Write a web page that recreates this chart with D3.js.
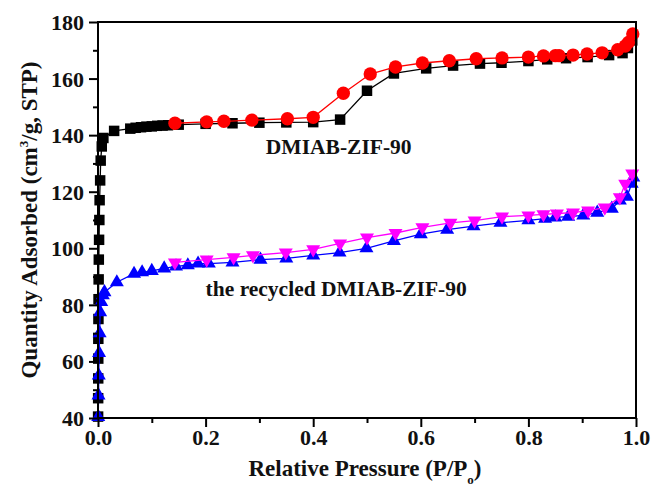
<!DOCTYPE html>
<html>
<head>
<meta charset="utf-8">
<script src="https://cdn.jsdelivr.net/npm/d3@7"></script>
<style>
body { margin: 0; background: #fff; }
text { font-family: "Liberation Serif", "Times New Roman", serif; font-weight: bold; fill: #111; }
</style>
</head>
<body>
<div id="chart"></div>
<script>
// DMIAB-ZIF-90, adsorption branch (black squares)
var blackP = [0.0002, 0.0003, 0.0004, 0.0005, 0.0006, 0.0008, 0.001, 0.0012, 0.0015, 0.002, 0.0025, 0.003, 0.004, 0.005, 0.007, 0.01, 0.03, 0.06, 0.07, 0.08, 0.09, 0.1, 0.11, 0.12, 0.13, 0.15, 0.2, 0.25, 0.3, 0.35, 0.4, 0.45, 0.5, 0.55, 0.61, 0.66, 0.71, 0.75, 0.8, 0.835, 0.87, 0.91, 0.95, 0.975, 0.985, 0.993];
var blackQ = [40.5, 47, 54, 61, 68, 75, 82, 89, 96, 103, 110, 117, 124, 131, 136, 139, 141.5, 142.3, 142.6, 142.8, 143, 143.1, 143.3, 143.4, 143.5, 143.7, 144, 144.2, 144.4, 144.5, 144.6, 145.5, 155.7, 161.8, 163.6, 164.6, 165.3, 165.6, 166.2, 166.8, 167.2, 167.6, 168.3, 169, 170.8, 173.5];
// DMIAB-ZIF-90, desorption branch (red circles)
var redP = [0.143, 0.202, 0.234, 0.286, 0.352, 0.40, 0.456, 0.506, 0.553, 0.603, 0.653, 0.703, 0.751, 0.80, 0.828, 0.85, 0.857, 0.883, 0.909, 0.937, 0.966, 0.98, 0.986, 0.994];
var redQ = [144.2, 144.7, 144.9, 145.3, 145.8, 146.3, 154.8, 161.6, 164.1, 165.5, 166.3, 167, 167.3, 167.6, 168, 168.1, 168.1, 168.3, 168.7, 169.1, 170.2, 171.5, 172.8, 175.8];
// recycled, adsorption (blue up triangles)
var blueP = [0.0005, 0.001, 0.0015, 0.002, 0.003, 0.004, 0.006, 0.009, 0.012, 0.035, 0.067, 0.082, 0.10, 0.123, 0.145, 0.167, 0.186, 0.206, 0.25, 0.302, 0.35, 0.40, 0.449, 0.499, 0.55, 0.60, 0.649, 0.698, 0.748, 0.80, 0.831, 0.85, 0.874, 0.902, 0.928, 0.955, 0.97, 0.983, 0.992, 0.995];
var blueQ = [40.4, 48, 55, 63, 70, 77.4, 81, 83.4, 84.5, 88, 91, 91.5, 92, 92.9, 93.6, 94, 94.6, 94.6, 95, 96, 96.4, 97.5, 98.5, 100, 102.6, 105, 106.6, 107.8, 109, 109.9, 110.5, 110.9, 111.2, 111.6, 112.6, 114, 116.9, 118.2, 122.8, 125];
// recycled, desorption (magenta down triangles)
var pinkP = [0.143, 0.202, 0.252, 0.288, 0.349, 0.40, 0.45, 0.50, 0.553, 0.603, 0.655, 0.70, 0.751, 0.80, 0.828, 0.853, 0.883, 0.911, 0.942, 0.97, 0.98, 0.993];
var pinkQ = [95, 96, 96.8, 97.5, 98.5, 99.6, 101.7, 103.8, 105.4, 107.4, 109, 109.8, 111.2, 111.6, 112, 112.3, 112.6, 113.3, 114.4, 118, 122.8, 126.4];

var xTicks = [0, 0.2, 0.4, 0.6, 0.8, 1.0];
var yTicks = [40, 60, 80, 100, 120, 140, 160, 180];

var totalW = 655, totalH = 486;
var margin = {top: 22, right: 19, bottom: 68, left: 98};
var width = totalW - margin.left - margin.right;
var height = totalH - margin.top - margin.bottom;

var svg = d3.select("#chart").append("svg")
	.attr("width", totalW)
	.attr("height", totalH);

var g = svg.append("g")
	.attr("transform", "translate(" + margin.left + "," + margin.top + ")");

var x = d3.scaleLinear().domain([0, 1]).range([0, width]);
var y = d3.scaleLinear().domain([40, 180]).range([height, 0]);

function pts(px, qy) {
	return px.map(function(p, i) { return {x: p, y: qy[i]}; });
}

var line = d3.line()
	.x(function(d) { return x(d.x); })
	.y(function(d) { return y(d.y); });

var series = [
	{data: pts(blackP, blackQ), color: "#000", sym: d3.symbolSquare, size: 110, rot: 0},
	{data: pts(redP, redQ), color: "#f00", sym: d3.symbolCircle, size: 140, rot: 0},
	{data: pts(blueP, blueQ), color: "#00f", sym: d3.symbolTriangle, size: 85, rot: 0},
	{data: pts(pinkP, pinkQ), color: "#f0f", sym: d3.symbolTriangle, size: 85, rot: 180}
];

series.forEach(function(s) {
	g.append("path")
		.datum(s.data)
		.attr("fill", "none")
		.attr("stroke", s.color)
		.attr("stroke-width", 1.3)
		.attr("d", line);
	g.selectAll(null)
		.data(s.data)
		.enter()
		.append("path")
			.attr("d", d3.symbol().type(s.sym).size(s.size))
			.attr("fill", s.color)
			.attr("transform", function(d) {
				return "translate(" + x(d.x) + "," + y(d.y) + ") rotate(" + s.rot + ")";
			});
});

// axes
var xAxis = d3.axisBottom(x)
	.tickValues(d3.range(0, 1.01, 0.1))
	.tickSize(6)
	.tickFormat(function(d) {
		return xTicks.some(function(t) { return Math.abs(t - d) < 1e-6; }) ? d3.format(".1f")(d) : "";
	});
var yAxis = d3.axisLeft(y)
	.tickValues(d3.range(40, 181, 10))
	.tickSize(6)
	.tickFormat(function(d) { return yTicks.indexOf(d) >= 0 ? d : ""; });

var gx = g.append("g")
	.attr("transform", "translate(0," + height + ")")
	.call(xAxis);
var gy = g.append("g").call(yAxis);

[gx, gy].forEach(function(a) {
	a.select(".domain").remove();
	a.selectAll("line").attr("stroke", "#000").attr("stroke-width", 2);
	a.selectAll("text")
		.style("font-family", "'Liberation Serif', serif")
		.style("font-weight", "bold")
		.style("font-size", "22px")
		.attr("fill", "#111");
});
gx.selectAll(".tick line").attr("y2", function(d, i) { return i % 2 === 0 ? 9 : 5; });
gy.selectAll(".tick line").attr("x2", function(d, i) { return i % 2 === 0 ? -9 : -5; });
gx.selectAll("text").attr("y", 11);
gy.selectAll("text").attr("x", -14).attr("dy", "0.34em");

// frame
g.append("rect")
	.attr("width", width)
	.attr("height", height)
	.attr("fill", "none")
	.attr("stroke", "#000")
	.attr("stroke-width", 2);

// labels
g.append("text")
	.attr("x", x(0.312))
	.attr("y", y(133.3))
	.style("font-size", "21.5px")
	.text("DMIAB-ZIF-90");

g.append("text")
	.attr("x", x(0.2))
	.attr("y", y(83.3))
	.style("font-size", "21.5px")
	.text("the recycled DMIAB-ZIF-90");

// axis titles
var xt = svg.append("text")
	.attr("x", 365)
	.attr("y", 476)
	.attr("text-anchor", "middle")
	.style("font-size", "23px");
xt.append("tspan").text("Relative Pressure (P/P");
xt.append("tspan").attr("dy", 8).style("font-size", "13px").text("o");
xt.append("tspan").attr("dy", -8).text(")");

var yt = svg.append("text")
	.attr("transform", "translate(37," + (margin.top + height / 2) + ") rotate(-90)")
	.attr("text-anchor", "middle")
	.style("font-size", "23px");
yt.append("tspan").text("Quantity Adsorbed (cm");
yt.append("tspan").attr("dy", -9).style("font-size", "13px").text("3");
yt.append("tspan").attr("dy", 9).text("/g, STP)");
</script>
</body>
</html>
